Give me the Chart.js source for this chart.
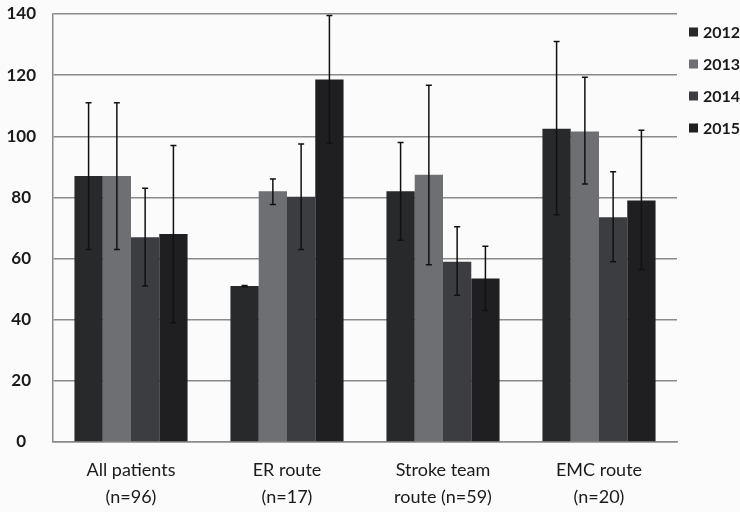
<!DOCTYPE html>
<html>
<head>
<meta charset="utf-8">
<script src="https://cdn.jsdelivr.net/npm/chart.js@4"></script>
<style>
  html, body { margin: 0; padding: 0; background: #fbfbfb; }
  #wrap { width: 740px; height: 512px; position: relative; }
</style>
</head>
<body>
<div id="wrap"><canvas id="chart"></canvas></div>
<script>
const categories = [
    ["All patients", "(n=96)"],
    ["ER route", "(n=17)"],
    ["Stroke team", "route (n=59)"],
    ["EMC route", "(n=20)"],
];
const years = ["2012", "2013", "2014", "2015"];
const colors = ["#28292b", "#6d6f72", "#3c3d40", "#1f1f21"];

// mean per category, one array per year
const values2012 = [87, 51, 82, 102.5];
const values2013 = [87, 82, 87.4, 101.6];
const values2014 = [67, 80.2, 59, 73.5];
const values2015 = [68, 118.6, 53.5, 79];

// error bar ends
const upper2012 = [111, 51.2, 98, 131];
const lower2012 = [63, 50.8, 66, 74.3];
const upper2013 = [111, 86, 116.7, 119.3];
const lower2013 = [63, 77.7, 58, 84.4];
const upper2014 = [83, 97.5, 70.4, 88.4];
const lower2014 = [51, 63, 48, 59];
const upper2015 = [97, 139.5, 64, 102];
const lower2015 = [39, 97.8, 43, 56.4];

const seriesValues = [values2012, values2013, values2014, values2015];
const seriesUpper = [upper2012, upper2013, upper2014, upper2015];
const seriesLower = [lower2012, lower2013, lower2014, lower2015];

const errorBars = {
    id: "errorBars",
    afterDatasetsDraw(chart) {
        const { ctx } = chart;
        const y = chart.scales.y;
        ctx.save();
        ctx.strokeStyle = "#111";
        ctx.lineWidth = 1.5;
        chart.data.datasets.forEach((ds, di) => {
            const meta = chart.getDatasetMeta(di);
            meta.data.forEach((bar, i) => {
                const hi = y.getPixelForValue(ds.upper[i]);
                const lo = y.getPixelForValue(ds.lower[i]);
                ctx.beginPath();
                ctx.moveTo(bar.x, hi);
                ctx.lineTo(bar.x, lo);
                ctx.moveTo(bar.x - 3, hi);
                ctx.lineTo(bar.x + 3, hi);
                ctx.moveTo(bar.x - 3, lo);
                ctx.lineTo(bar.x + 3, lo);
                ctx.stroke();
            });
        });
        ctx.restore();
    },
};

const sideLegend = {
    id: "sideLegend",
    afterDraw(chart) {
        const { ctx } = chart;
        ctx.save();
        ctx.font = "bold 16px Lato";
        ctx.textBaseline = "middle";
        chart.data.datasets.forEach((ds, i) => {
            const cy = 32 + i * 32;
            ctx.fillStyle = ds.backgroundColor;
            ctx.fillRect(689, cy - 4.5, 9, 9);
            ctx.fillStyle = "#1a1a1a";
            ctx.fillText(ds.label, 703, cy + 1);
        });
        ctx.restore();
    },
};

// pin the axis boxes so the plot area lands where the original has it
function noPadding(scale) {
    scale.paddingTop = 0;
    scale.paddingBottom = 0;
    scale.paddingLeft = 0;
    scale.paddingRight = 0;
}

new Chart(document.getElementById("chart"), {
    type: "bar",
    data: {
        labels: categories,
        datasets: years.map((yr, i) => ({
            label: yr,
            data: seriesValues[i],
            upper: seriesUpper[i],
            lower: seriesLower[i],
            backgroundColor: colors[i],
            categoryPercentage: 0.725,
            barPercentage: 1,
        })),
    },
    options: {
        responsive: true,
        maintainAspectRatio: false,
        animation: false,
        layout: { padding: { top: 14, right: 63, bottom: 0, left: 4 } },
        scales: {
            x: {
                grid: { display: false, drawTicks: false },
                border: { color: "#8a8a8a", width: 1.5 },
                ticks: {
                    color: "#1a1a1a",
                    padding: 15,
                    font: { family: "Lato", size: 18, lineHeight: 1.48 },
                },
                afterFit(scale) {
                    scale.height = 70;
                    noPadding(scale);
                },
            },
            y: {
                min: 0,
                max: 140,
                grid: { color: "#8a8a8a", lineWidth: 1.5, drawTicks: false },
                border: { color: "#8a8a8a", width: 1.5 },
                ticks: {
                    stepSize: 20,
                    color: "#1a1a1a",
                    padding: 17,
                    crossAlign: "center",
                    font: { family: "Lato", size: 17, weight: "bold" },
                },
                afterFit(scale) {
                    scale.width = 49;
                    noPadding(scale);
                },
            },
        },
        plugins: {
            legend: { display: false },
            tooltip: { enabled: false },
        },
    },
    plugins: [errorBars, sideLegend],
});
</script>
</body>
</html>
